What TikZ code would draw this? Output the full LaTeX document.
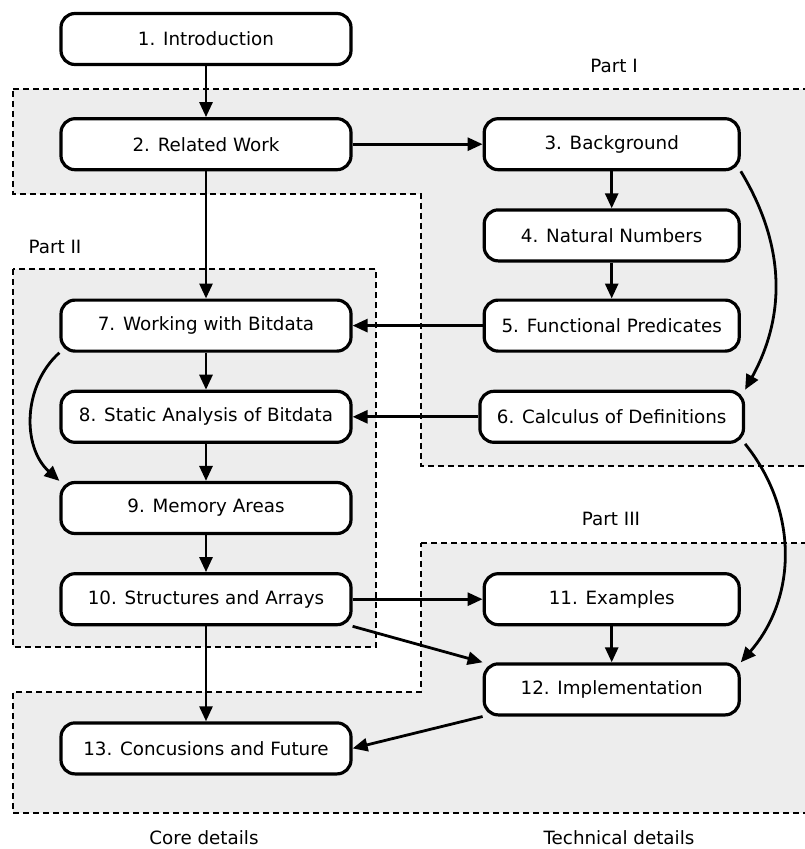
\documentclass[tikz,border=0pt]{standalone}
\usepackage{fontspec}
\setmainfont{DejaVu Sans}
\usetikzlibrary{arrows.meta, positioning}

\definecolor{partfill}{RGB}{237,237,237}

\begin{document}
\begin{tikzpicture}[
    x=1pt, y=-1pt,
    font=\fontsize{18.3}{22}\selectfont,
    box/.style={rectangle, draw, line width=3.2pt, rounded corners=14pt, fill=white, minimum height=51pt, inner xsep=17pt, align=center},
    leftbox/.style={box, minimum width=290pt},
    rightbox/.style={box, minimum width=255pt},
    arrow/.style={-{Triangle[length=15pt, width=13pt]}, line width=2.8pt},
    part/.style={draw, fill=partfill, line width=1.3pt, dash pattern=on 6pt off 4pt},
]
\useasboundingbox (0,0) rectangle (805,849);

% part regions
\draw[part] (13,89) -- (830,89) -- (830,466) -- (421,466) -- (421,194) -- (13,194) -- cycle;
\draw[part] (13,269) rectangle (376,647);
\draw[part] (421,543) -- (830,543) -- (830,813) -- (13,813) -- (13,692) -- (421,692) -- cycle;

\node (part1) at (614,66) {Part I};
\node (part2) at (55,247) {Part II};
\node (part3) at (611,519) {Part III};
\node (core) at (204,838) {Core details};
\node (technical) at (619,838) {Technical details};

% chapters
\node[leftbox] (intro) at (206,39) {1. Introduction};
\node[leftbox, below=51pt of intro] (related) {2. Related Work};
\node[rightbox, right=130pt of related] (background) {3. Background};
\node[rightbox, below=37pt of background] (natural) {4. Natural Numbers};
\node[rightbox, below=36pt of natural] (functional) {5. Functional Predicates};
\node[rightbox, below=37pt of functional] (calculus) {6. Calculus of Definitions};
\node[leftbox] (bitdata) at (related |- functional) {7. Working with Bitdata};
\node[leftbox] (static) at (related |- calculus) {8. Static Analysis of Bitdata};
\node[leftbox, below=37pt of static] (memory) {9. Memory Areas};
\node[leftbox, below=37pt of memory] (structures) {10. Structures and Arrays};
\node[rightbox] (examples) at (background |- structures) {11. Examples};
\node[rightbox, below=36pt of examples] (implementation) {12. Implementation};
\node[leftbox, below=95pt of structures] (conclusions) {13. Concusions and Future};

\draw[arrow] (intro) -- (related);
\draw[arrow] (related) -- (background);
\draw[arrow] (related) -- (bitdata);
\draw[arrow] (background) -- (natural);
\draw[arrow] (natural) -- (functional);
\draw[arrow] (background.south east) to[bend left=30] (calculus.north east);
\draw[arrow] (functional) -- (bitdata);
\draw[arrow] (calculus) -- (static);
\draw[arrow] (bitdata) -- (static);
\draw[arrow] (bitdata.south west) to[bend right=48] (memory.north west);
\draw[arrow] (static) -- (memory);
\draw[arrow] (memory) -- (structures);
\draw[arrow] (structures) -- (examples);
\draw[arrow] (structures.south east) -- (implementation.north west);
\draw[arrow] (examples) -- (implementation);
\draw[arrow] (calculus.south east) to[bend left=40] (implementation.north east);
\draw[arrow] (structures) -- (conclusions);
\draw[arrow] (implementation.south west) -- (conclusions.east);

\end{tikzpicture}
\end{document}
